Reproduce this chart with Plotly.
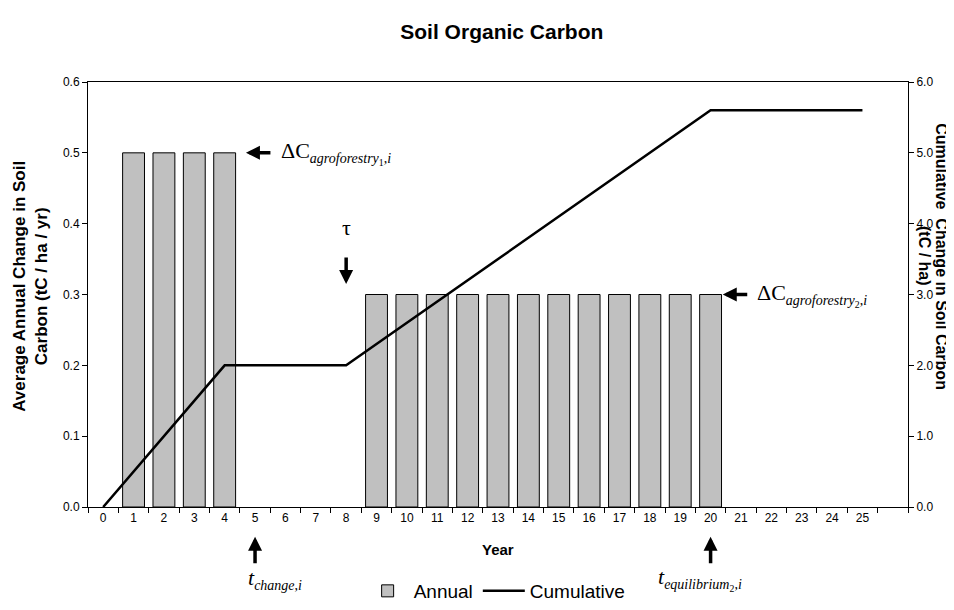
import plotly.graph_objects as go

years = list(range(26))
tick_labels = [str(y) for y in years]
annual = [None, 0.5, 0.5, 0.5, 0.5, None, None, None, None,
          0.3, 0.3, 0.3, 0.3, 0.3, 0.3, 0.3, 0.3, 0.3, 0.3, 0.3, 0.3,
          None, None, None, None, None]
cumulative = [0.0, 0.5, 1.0, 1.5, 2.0, 2.0, 2.0, 2.0, 2.0,
              2.3, 2.6, 2.9, 3.2, 3.5, 3.8, 4.1, 4.4, 4.7, 5.0, 5.3, 5.6,
              5.6, 5.6, 5.6, 5.6, 5.6]
n_slots = 27  # category slots on the axis (last one empty)

fig = go.Figure()
fig.add_trace(go.Bar(x=years, y=annual, name="Annual", width=0.72,
                     marker=dict(color="#C0C0C0", line=dict(color="black", width=1))))
fig.add_trace(go.Scatter(x=years, y=cumulative, name="Cumulative", yaxis="y2",
                         mode="lines", line=dict(color="black", width=2.5)))

AX = dict(family="Arial", size=12, color="black")
fig.update_layout(
    width=946, height=602,
    margin=dict(l=80, r=46, t=74, b=103),
    plot_bgcolor="white", paper_bgcolor="white",
    title=dict(text="<b>Soil Organic Carbon</b>", xref="container", yref="container",
               x=0.522, xanchor="center", y=0.960, yanchor="middle",
               font=dict(family="Arial", size=21, color="black")),
    xaxis=dict(range=[-0.5, n_slots - 0.5], tickvals=years, ticktext=tick_labels,
               ticks="", showline=True, linecolor="black", mirror=True,
               showgrid=False, zeroline=False, tickfont=AX, automargin=False,
               minor=dict(tickvals=[i - 0.5 for i in range(n_slots + 1)], ticks="outside",
                          ticklen=5, tickcolor="black", showgrid=False)),
    yaxis=dict(range=[0, 0.6], dtick=0.1, tickformat=".1f", ticks="outside", ticklen=5,
               tickcolor="black", showline=True, linecolor="black", showgrid=False,
               zeroline=False, tickfont=AX, automargin=False),
    yaxis2=dict(range=[0, 6], dtick=1, tickformat=".1f", ticks="outside", ticklen=5,
                tickcolor="black", showline=True, linecolor="black", showgrid=False,
                zeroline=False, overlaying="y", side="right", tickfont=AX, automargin=False),
    legend=dict(orientation="h", xref="container", yref="container", x=0.516, xanchor="center",
                y=0.0, yanchor="bottom", itemwidth=42,
                font=dict(family="Arial", size=19, color="black"), traceorder="normal"),
)

ann = []
TF = dict(family="Arial", size=17, color="black")
ann.append(dict(text="<b>Average Annual Change in Soil<br>Carbon (tC / ha / yr)</b>",
                xref="paper", yref="paper", x=-0.071, y=0.52, textangle=-90,
                showarrow=False, font=TF, xanchor="center", yanchor="middle"))
TR = dict(family="Arial", size=16, color="black")
ann.append(dict(text="<b>Cumulative  Change in Soil Carbon</b>",
                xref="paper", yref="paper", x=1.0415, y=0.59, textangle=90,
                showarrow=False, font=TR, xanchor="center", yanchor="middle"))
ann.append(dict(text="<b>(tC / ha)</b>",
                xref="paper", yref="paper", x=1.021, y=0.59, textangle=90,
                showarrow=False, font=TR, xanchor="center", yanchor="middle"))
ann.append(dict(text="<b>Year</b>", xref="paper", yref="paper", x=0.5, y=-0.101,
                showarrow=False, font=dict(family="Arial", size=15, color="black"),
                xanchor="center", yanchor="middle"))

MF = dict(family="Liberation Serif", size=22, color="black")
S = "<span style='font-size:14px'>"
arrow = dict(showarrow=True, arrowhead=2, arrowsize=0.8, arrowwidth=3.5, arrowcolor="black", text="")
# left arrows
ann.append(dict(x=4.7, y=0.5, xref="x", yref="y", ax=26, ay=0, **arrow))
ann.append(dict(text="ΔC<sub>" + S + "<i>agroforestry</i><sub>1</sub>,<i>i</i></span></sub>", x=5.8, y=0.5,
                xref="x", yref="y", showarrow=False, xanchor="left", yanchor="middle", font=MF))
ann.append(dict(x=20.4, y=0.3, xref="x", yref="y", ax=26, ay=0, **arrow))
ann.append(dict(text="ΔC<sub>" + S + "<i>agroforestry</i><sub>2</sub>,<i>i</i></span></sub>", x=21.45, y=0.3,
                xref="x", yref="y", showarrow=False, xanchor="left", yanchor="middle", font=MF))
# tau
ann.append(dict(x=8, y=0.315, xref="x", yref="y", ax=0, ay=-28, **arrow))
ann.append(dict(text="τ", x=8, y=0.395, xref="x", yref="y", showarrow=False,
                xanchor="center", yanchor="middle", font=MF))
# up arrows below axis
ann.append(dict(x=5, y=-0.07, xref="x", yref="paper", ax=0, ay=28, **arrow))
ann.append(dict(text="<i>t</i><sub>" + S + "<i>change</i>,<i>i</i></span></sub>", x=4.7, y=-0.17,
                xref="x", yref="paper", showarrow=False, xanchor="left", yanchor="middle", font=MF))
ann.append(dict(x=20, y=-0.07, xref="x", yref="paper", ax=0, ay=28, **arrow))
ann.append(dict(text="<i>t</i><sub>" + S + "<i>equilibrium</i><sub>2</sub>,<i>i</i></span></sub>", x=18.2, y=-0.17,
                xref="x", yref="paper", showarrow=False, xanchor="left", yanchor="middle", font=MF))
fig.update_layout(annotations=ann)

fig.write_html("out.html")
